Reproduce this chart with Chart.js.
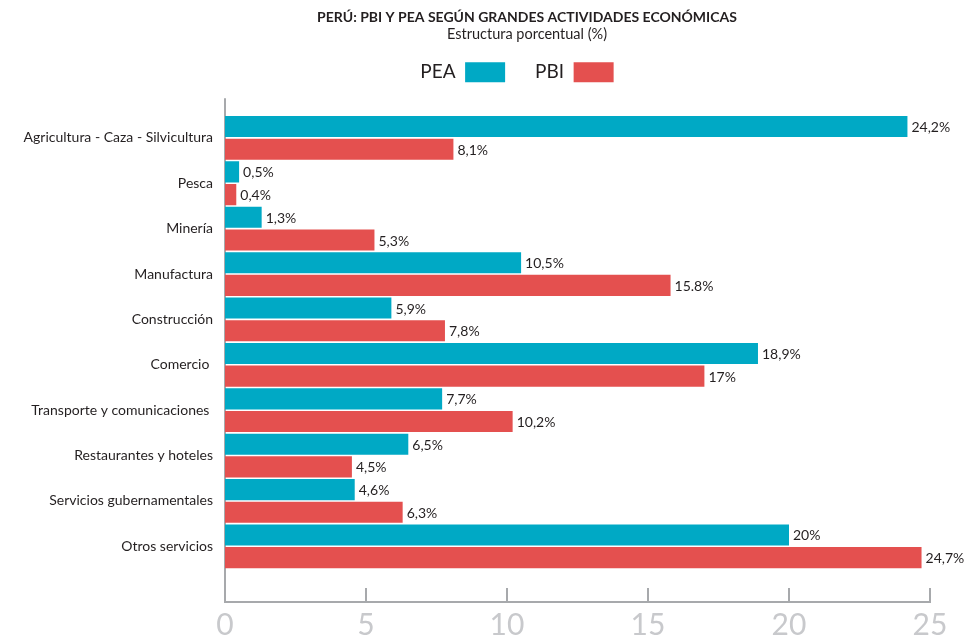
<!DOCTYPE html>
<html>
<head>
<meta charset="utf-8">
<script src="https://cdn.jsdelivr.net/npm/chart.js@4/dist/chart.umd.min.js"></script>
<style>
  html, body { margin: 0; padding: 0; background: #fff; }
  #grafico { display: block; }
</style>
</head>
<body>
<canvas id="grafico" width="965" height="641"></canvas>
<script>
// actividades economicas
const actividades = [
  'Agricultura - Caza - Silvicultura',
  'Pesca',
  'Minería',
  'Manufactura',
  'Construcción',
  'Comercio ',
  'Transporte y comunicaciones ',
  'Restaurantes y hoteles',
  'Servicios gubernamentales',
  'Otros servicios'
];

// estructura porcentual (%)
const pea = [24.2, 0.5, 1.3, 10.5, 5.9, 18.9, 7.7, 6.5, 4.6, 20];
const pbi = [8.1, 0.4, 5.3, 15.8, 7.8, 17, 10.2, 4.5, 6.3, 24.7];

// textos de las etiquetas tal como aparecen
const peaTextos = ['24,2%', '0,5%', '1,3%', '10,5%', '5,9%', '18,9%', '7,7%', '6,5%', '4,6%', '20%'];
const pbiTextos = ['8,1%', '0,4%', '5,3%', '15.8%', '7,8%', '17%', '10,2%', '4,5%', '6,3%', '24,7%'];

const ticksX = [0, 5, 10, 15, 20, 25];

const fuente = 'Lato, "Open Sans", sans-serif';
const colorEje = '#a7a9ac';

// en el original el titulo y la leyenda estan corridos a la derecha
const correrCabecera = {
  id: 'correrCabecera',
  afterLayout(chart) {
    chart.boxes.forEach(b => {
      if (b.position !== 'top' || !b.fullSize) return;
      if (b === chart.legend) {
        b.left += 52;
        b.right += 52;
      } else {
        b.left += 124;
      }
    });
  }
};

// lineas de los ejes (dibujadas a mano para imitar el original)
const ejes = {
  id: 'ejes',
  beforeDatasetsDraw(chart) {
    const ctx = chart.ctx;
    const area = chart.chartArea;
    const x = chart.scales.x;
    const yBase = area.bottom + 33;
    ctx.save();
    ctx.strokeStyle = colorEje;
    ctx.lineWidth = 2;
    ctx.beginPath();
    ctx.moveTo(area.left, area.top - 17);
    ctx.lineTo(area.left, yBase);
    ctx.lineTo(x.getPixelForValue(25) + 1, yBase);
    ticksX.forEach(t => {
      if (t === 0) return;
      const px = x.getPixelForValue(t);
      ctx.moveTo(px, yBase);
      ctx.lineTo(px, yBase - 14);
    });
    ctx.stroke();
    ctx.restore();
  }
};

// etiquetas de valor al final de cada barra
const etiquetas = {
  id: 'etiquetas',
  afterDatasetsDraw(chart) {
    const ctx = chart.ctx;
    const textos = [peaTextos, pbiTextos];
    ctx.save();
    ctx.font = '14px ' + fuente;
    ctx.fillStyle = '#231f20';
    ctx.textAlign = 'left';
    ctx.textBaseline = 'middle';
    chart.data.datasets.forEach((ds, i) => {
      chart.getDatasetMeta(i).data.forEach((bar, j) => {
        ctx.fillText(textos[i][j], bar.x + 4, bar.y + 1);
      });
    });
    ctx.restore();
  }
};

const config = {
  type: 'bar',
  data: {
    labels: actividades,
    datasets: [
      {
        label: 'PEA',
        data: pea,
        backgroundColor: '#00a9c5',
        borderWidth: 0
      },
      {
        label: 'PBI',
        data: pbi,
        backgroundColor: '#e4504f',
        borderWidth: 0
      }
    ]
  },
  options: {
    indexAxis: 'y',
    responsive: false,
    animation: false,
    devicePixelRatio: 1,
    layout: { padding: { top: 0, right: 35, bottom: 0, left: 0 } },
    datasets: {
      bar: { categoryPercentage: 1, barPercentage: 0.93 }
    },
    plugins: {
      title: {
        display: true,
        text: 'PERÚ: PBI Y PEA SEGÚN GRANDES ACTIVIDADES ECONÓMICAS',
        color: '#231f20',
        font: { family: fuente, size: 14, weight: 'bold' },
        padding: { top: 9, bottom: 0 }
      },
      subtitle: {
        display: true,
        text: 'Estructura porcentual (%)',
        color: '#231f20',
        font: { family: fuente, size: 14.5 },
        padding: { top: 0, bottom: -11 }
      },
      legend: {
        display: true,
        rtl: true,
        reverse: true,
        labels: {
          color: '#231f20',
          font: { family: fuente, size: 19 },
          boxWidth: 40,
          boxHeight: 20,
          padding: 30
        }
      },
      tooltip: { enabled: false }
    },
    scales: {
      // eje vacio solo para dejar aire entre la leyenda y las barras
      espacio: {
        type: 'linear',
        position: 'top',
        display: true,
        afterFit(scale) { scale.height = 23; },
        grid: { display: false, drawTicks: false },
        border: { display: false },
        ticks: { display: false }
      },
      x: {
        min: 0,
        max: 25,
        afterBuildTicks(scale) {
          scale.ticks = ticksX.map(v => ({ value: v }));
        },
        afterFit(scale) {
          scale.height = 72;
          scale.paddingLeft = 0;
          scale.paddingRight = 0;
        },
        grid: { display: false, drawTicks: false },
        border: { display: false },
        ticks: {
          color: '#c8c9cc',
          font: { family: fuente, size: 30 },
          padding: 38,
          maxRotation: 0
        }
      },
      y: {
        afterFit(scale) { scale.width = 225; },
        grid: { display: false, drawTicks: false },
        border: { display: false },
        ticks: {
          color: '#231f20',
          font: { family: fuente, size: 14 },
          padding: 12
        }
      }
    }
  },
  plugins: [correrCabecera, ejes, etiquetas]
};

const grafico = new Chart(document.getElementById('grafico'), config);
</script>
</body>
</html>
